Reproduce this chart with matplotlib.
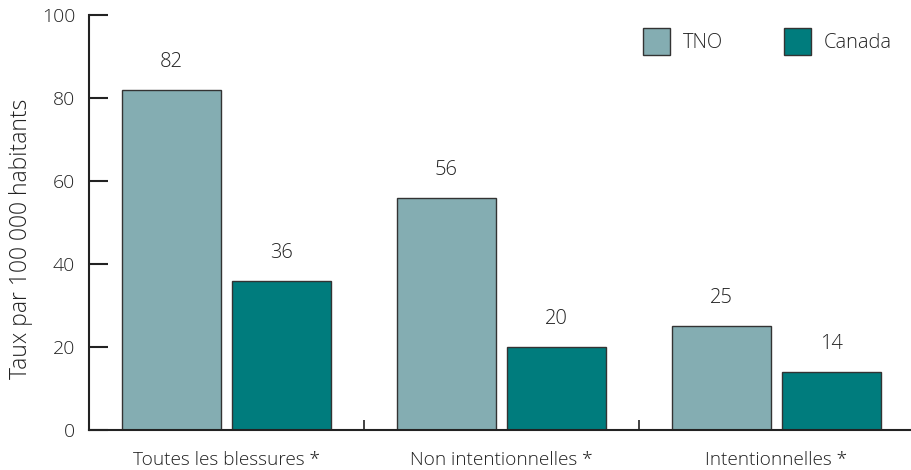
import matplotlib
matplotlib.use("Agg")
import matplotlib.pyplot as plt
from matplotlib.patches import Patch

categories = ["Toutes les blessures *", "Non intentionnelles *", "Intentionnelles *"]
series_names = ["TNO", "Canada"]
tno = [82, 56, 25]
canada = [36, 20, 14]
yticks = [0, 20, 40, 60, 80, 100]

plt.rcParams['font.family'] = ['Open Sans', 'DejaVu Sans']
plt.rcParams['font.weight'] = 'light'
plt.rcParams['axes.labelweight'] = 'light'

c_tno = "#84adb2"
c_can = "#007c7d"
edge = "#333333"
txt = "#222222"

fig = plt.figure(figsize=(9.11, 4.70), dpi=100)
ax = fig.add_axes([89/911, 1 - 430/470, 1 - 89/911, 415/470])

x = list(range(len(categories)))
w = 0.36
off = 0.2
b1 = ax.bar([i - off for i in x], tno, width=w, color=c_tno, edgecolor=edge, linewidth=1.0, label=series_names[0])
b2 = ax.bar([i + off for i in x], canada, width=w, color=c_can, edgecolor=edge, linewidth=1.0, label=series_names[1])

for bars, vals in ((b1, tno), (b2, canada)):
    for r, v in zip(bars, vals):
        ax.annotate(f"{v}", (r.get_x() + r.get_width() / 2, v), xytext=(0, 20),
                    textcoords="offset points", ha="center", va="center",
                    fontsize=14.5, color=txt)

ax.set_xlim(-0.5, 2.49)
ax.set_ylim(0, 100)
ax.set_yticks(yticks)
ax.set_yticklabels([str(t) for t in yticks])
ax.tick_params(axis="y", direction="in", length=14, width=1.5, color="#222222",
               pad=10, labelsize=14, labelcolor=txt)
ax.set_xticks(x)
ax.set_xticklabels(categories)
ax.tick_params(axis="x", which="major", length=0, pad=15, labelsize=13.7, labelcolor=txt)
ax.set_xticks([0.5, 1.5], minor=True)
ax.tick_params(axis="x", which="minor", direction="in", length=7, width=1.2, color="#222222")

for s in ("top", "right"):
    ax.spines[s].set_visible(False)
for s in ("left", "bottom"):
    ax.spines[s].set_linewidth(1.5)
    ax.spines[s].set_color("#222222")

ax.set_ylabel("Taux par 100 000 habitants", fontsize=16.5, color=txt, fontweight="light")
ax.yaxis.set_label_coords(-0.068, 0.46)

handles = [Patch(facecolor=c_tno, edgecolor=edge, linewidth=1.0),
           Patch(facecolor=c_can, edgecolor=edge, linewidth=1.0)]
leg = fig.legend(handles, series_names, ncol=2, frameon=False, fontsize=14.5,
                 loc="upper left", bbox_to_anchor=(643/911, 1 - 28/470),
                 borderpad=0, borderaxespad=0,
                 handlelength=1.34, handleheight=1.7, handletextpad=0.65,
                 columnspacing=3.0, labelcolor=txt)

fig.savefig("out.png", dpi=100)
